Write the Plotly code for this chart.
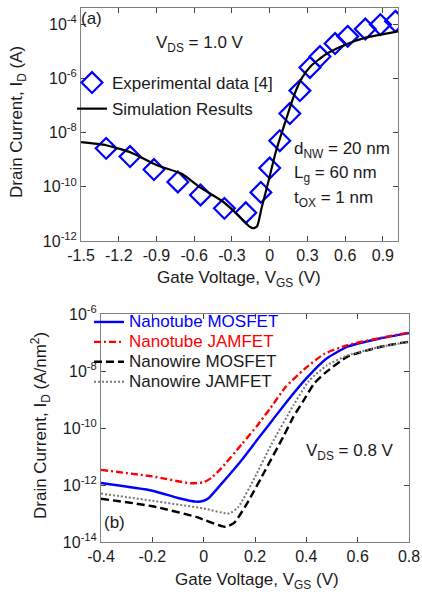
import plotly.graph_objects as go

# ---------------- panel (a): nanowire transfer characteristic ----------------
exp_vgs = [-1.30, -1.11, -0.92, -0.73, -0.55, -0.36, -0.19, -0.07, 0.00, 0.08,
           0.16, 0.24, 0.32, 0.40, 0.52, 0.62, 0.76, 0.88, 1.00]
exp_id = [2.6e-9, 1.3e-9, 4.3e-10, 1.5e-10, 5.0e-11, 1.6e-11, 1.1e-11, 6.2e-11,
          4.9e-10, 5.0e-9, 5.0e-8, 3.5e-7, 2.5e-6, 6.3e-6, 1.9e-5, 3.5e-5,
          6.5e-5, 9.5e-5, 1.26e-4]

sim_vgs = [-1.50, -1.30, -1.10, -0.90, -0.70, -0.55, -0.37, -0.25, -0.16, -0.13,
           -0.10, -0.065, -0.013, 0.053, 0.13, 0.20, 0.26, 0.33, 0.45, 0.61,
           0.77, 1.02]
sim_id = [4.4e-9, 3.4e-9, 1.8e-9, 6.3e-10, 3.0e-10, 9.3e-11, 2.8e-11, 8.9e-12,
          3.4e-12, 2.95e-12, 3.5e-12, 1.6e-11, 1.4e-10, 2.3e-9, 3.0e-8, 2.8e-7,
          1.1e-6, 2.9e-6, 7.8e-6, 1.8e-5, 3.2e-5, 5.4e-5]

# ---------------- panel (b): nanotube vs nanowire devices ----------------
nt_mos_vgs = [-0.40, -0.20, -0.10, -0.03, 0.00, 0.02, 0.07, 0.15, 0.21, 0.27,
              0.32, 0.40, 0.48, 0.56, 0.69, 0.80]
nt_mos_id = [1.17e-12, 6.3e-13, 3.5e-13, 2.6e-13, 2.8e-13, 3.5e-13, 1.12e-12,
             7.9e-12, 4.0e-11, 2.0e-10, 7.6e-10, 5.5e-9, 2.8e-8, 7.1e-8,
             1.41e-7, 2.14e-7]

nt_jam_vgs = [-0.40, -0.20, -0.05, 0.00, 0.03, 0.07, 0.15, 0.21, 0.26, 0.32,
              0.39, 0.47, 0.56, 0.69, 0.80]
nt_jam_id = [3.4e-12, 2.0e-12, 1.15e-12, 1.26e-12, 1.78e-12, 4.0e-12, 2.8e-11,
             1.26e-10, 5.0e-10, 2.8e-9, 1.12e-8, 4.0e-8, 8.1e-8, 1.45e-7,
             2.24e-7]

nw_mos_vgs = [-0.40, -0.20, -0.03, 0.085, 0.12, 0.175, 0.24, 0.31, 0.35, 0.39,
              0.43, 0.47, 0.56, 0.69, 0.80]
nw_mos_id = [3.3e-13, 1.8e-13, 7.6e-14, 3.4e-14, 4.8e-14, 2.8e-13, 3.3e-12,
             4.9e-11, 2.5e-10, 9.5e-10, 3.6e-9, 8.1e-9, 3.2e-8, 7.1e-8, 1.07e-7]

nw_jam_vgs = [-0.40, -0.20, 0.00, 0.10, 0.135, 0.20, 0.265, 0.35, 0.41, 0.48,
              0.56, 0.69, 0.80]
nw_jam_id = [5.0e-13, 2.8e-13, 1.5e-13, 1.0e-13, 1.7e-13, 1.9e-12, 2.8e-11,
             6.3e-10, 4.5e-9, 1.58e-8, 3.5e-8, 7.1e-8, 1.05e-7]

xticks_a = [-1.5, -1.2, -0.9, -0.6, -0.3, 0, 0.3, 0.6, 0.9]
xticklabels_a = ["-1.5", "-1.2", "-0.9", "-0.6", "-0.3", "0", "0.3", "0.6", "0.9"]
yexp_a = [-12, -10, -8, -6, -4]
xticks_b = [-0.4, -0.2, 0, 0.2, 0.4, 0.6, 0.8]
xticklabels_b = ["-0.4", "-0.2", "0", "0.2", "0.4", "0.6", "0.8"]
yexp_b = [-14, -12, -10, -8, -6]

W, H = 422, 595
FONT = "Arial, Liberation Sans, sans-serif"
TXT = "#1a1a1a"
FRAME = "#808080"


def px_x(p):
    return p / W


def px_y(p):
    return 1 - p / H


def sized(text, size, color=None):
    style = f"font-size:{size}px"
    if color:
        style += f";color:{color}"
    return f'<span style="{style}">{text}</span>'


fig = go.Figure()

fig.add_trace(go.Scatter(
    x=exp_vgs, y=exp_id, mode="markers", name="Experimental data [4]",
    marker=dict(symbol="diamond-open", size=16, color="#0000ff",
                line=dict(width=2.2, color="#0000ff")),
    xaxis="x", yaxis="y", legend="legend", legendgroup="exp"))
fig.add_trace(go.Scatter(
    x=sim_vgs, y=sim_id, mode="lines", name="Simulation Results",
    line=dict(color="black", width=2.2, shape="spline", smoothing=0.5),
    xaxis="x", yaxis="y", legend="legend", legendgroup="sim"))

LEG_B = 17
fig.add_trace(go.Scatter(
    x=nt_mos_vgs, y=nt_mos_id, mode="lines",
    name=sized("Nanotube MOSFET", LEG_B, "#0000ff"),
    line=dict(color="#0000ff", width=2.4, shape="spline", smoothing=0.5),
    xaxis="x2", yaxis="y2", legend="legend2"))
fig.add_trace(go.Scatter(
    x=nt_jam_vgs, y=nt_jam_id, mode="lines",
    name=sized("Nanotube JAMFET", LEG_B, "#ff0000"),
    line=dict(color="#ff0000", width=2.4, dash="7px,3px,2px,3px",
              shape="spline", smoothing=0.5),
    xaxis="x2", yaxis="y2", legend="legend2"))
fig.add_trace(go.Scatter(
    x=nw_mos_vgs, y=nw_mos_id, mode="lines",
    name=sized("Nanowire MOSFET", LEG_B, TXT),
    line=dict(color="black", width=2.4, dash="8px,4px", shape="spline",
              smoothing=0.5),
    xaxis="x2", yaxis="y2", legend="legend2"))
fig.add_trace(go.Scatter(
    x=nw_jam_vgs, y=nw_jam_id, mode="lines",
    name=sized("Nanowire JAMFET", LEG_B, TXT),
    line=dict(color="#777777", width=2.0, dash="2px,2px", shape="spline",
              smoothing=0.5),
    xaxis="x2", yaxis="y2", legend="legend2"))

axis_common = dict(showline=True, mirror="ticks", linecolor=FRAME, linewidth=1,
                   ticks="inside", ticklen=5, tickcolor="#444444",
                   showgrid=False, zeroline=False, automargin=False,
                   tickfont=dict(family=FONT, size=16, color=TXT))

fig.update_layout(
    width=W, height=H, margin=dict(l=0, r=0, t=0, b=0, autoexpand=False),
    paper_bgcolor="white", plot_bgcolor="white",
    font=dict(family=FONT, color=TXT),
    xaxis=dict(domain=[px_x(81), px_x(398)], range=[-1.5, 1.02],
               tickvals=xticks_a, ticktext=xticklabels_a, anchor="y",
               **axis_common),
    yaxis=dict(domain=[px_y(241), px_y(8)], type="log", range=[-12, -3.41],
               tickvals=[10.0 ** e for e in yexp_a],
               ticktext=[f"10<sup>{e}</sup>" for e in yexp_a], anchor="x",
               **axis_common),
    xaxis2=dict(domain=[px_x(101), px_x(409)], range=[-0.4, 0.8],
                tickvals=xticks_b, ticktext=xticklabels_b, anchor="y2",
                **axis_common),
    yaxis2=dict(domain=[px_y(542), px_y(314)], type="log", range=[-14, -6],
                tickvals=[10.0 ** e for e in yexp_b],
                ticktext=[f"10<sup>{e}</sup>" for e in yexp_b], anchor="x2",
                **axis_common),
    legend=dict(x=px_x(72), y=px_y(65), xanchor="left", yanchor="top",
                bgcolor="rgba(0,0,0,0)", borderwidth=0,
                font=dict(family=FONT, size=17, color=TXT),
                tracegroupgap=1, itemclick=False),
    legend2=dict(x=px_x(89), y=px_y(307), xanchor="left", yanchor="top",
                 bgcolor="rgba(0,0,0,0)", borderwidth=0,
                 font=dict(family=FONT, size=13, color=TXT),
                 tracegroupgap=0, itemclick=False),
)

ann_font = dict(family=FONT, size=17, color=TXT)
annotations = [
    # axis titles
    dict(text="Drain Current, I<sub>D</sub> (A)", x=px_x(18), y=px_y(122),
         textangle=-90),
    dict(text="Gate Voltage, V<sub>GS</sub> (V)", x=px_x(239), y=px_y(279)),
    dict(text="Drain Current, I<sub>D</sub> (A/nm<sup>2</sup>)", x=px_x(40),
         y=px_y(426), textangle=-90),
    dict(text="Gate Voltage, V<sub>GS</sub> (V)", x=px_x(257), y=px_y(581)),
    # panel labels and conditions
    dict(text="(a)", x=px_x(91), y=px_y(18)),
    dict(text="V<sub>DS</sub> = 1.0 V", x=px_x(200), y=px_y(44)),
    dict(text="d<sub>NW</sub> = 20 nm", x=px_x(292), y=px_y(150), xanchor="left"),
    dict(text="L<sub>g</sub> = 60 nm", x=px_x(292), y=px_y(174), xanchor="left"),
    dict(text="t<sub>OX</sub> = 1 nm", x=px_x(292), y=px_y(199), xanchor="left"),
    dict(text="V<sub>DS</sub> = 0.8 V", x=px_x(350), y=px_y(452)),
    dict(text="(b)", x=px_x(114), y=px_y(522)),
]
for a in annotations:
    a.setdefault("xanchor", "center")
    fig.add_annotation(xref="paper", yref="paper", showarrow=False,
                       yanchor="middle", font=ann_font, **a)

fig.write_html("out.html")
